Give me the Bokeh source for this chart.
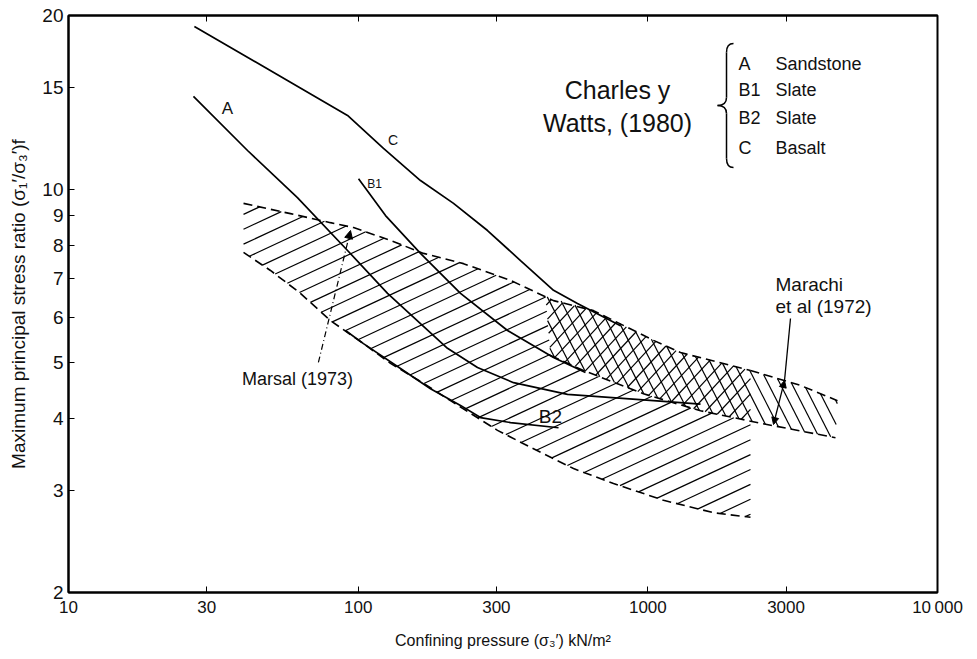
import numpy as np
from bokeh.plotting import figure
from bokeh.models import (FixedTicker, PrintfTickFormatter, LogAxis, Label, Arrow,
                          NormalHead, ColumnDataSource)
from bokeh.embed import file_html
from bokeh.resources import INLINE

# ---------------- data ----------------
x_ticks = [10, 30, 100, 300, 1000, 3000, 10000]
y_ticks = [2, 3, 4, 5, 6, 7, 8, 9, 10, 15, 20]

# Charles y Watts (1980) curves
c_x = [27.2, 57.0, 91.9, 122.3, 164.1, 213.4, 279.6, 363.5, 472.5, 571.6, 804.7]
c_y = [19.14, 15.43, 13.42, 11.77, 10.35, 9.45, 8.48, 7.52, 6.68, 6.34, 5.80]
a_x = [27.0, 41.5, 61.7, 91.9, 126.3, 164.1, 203.4, 258.2, 343.9, 528.0, 1045.9, 1520.3]
a_y = [14.48, 11.67, 9.67, 7.83, 6.60, 5.85, 5.30, 4.91, 4.62, 4.41, 4.30, 4.24]
b1_x = [100.3, 124.3, 164.1, 225.6, 327.8, 472.5, 609.1]
b1_y = [10.43, 9.00, 7.74, 6.60, 5.69, 5.11, 4.81]
b2_x = [90.4, 104.3, 140.0, 177.7, 225.6, 264.4, 335.7, 491.7]
b2_y = [5.69, 5.40, 4.89, 4.51, 4.22, 4.02, 3.94, 3.86]

# Marsal (1973) band
marsal_up_x = [40.2, 58.4, 80.2, 96.4, 129.3, 168.1, 231.0, 335.7, 472.5, 649.3, 850.8, 1045.9, 1296.6, 2261.5]
marsal_up_y = [9.45, 9.07, 8.75, 8.58, 8.15, 7.74, 7.43, 6.95, 6.41, 6.16, 5.76, 5.47, 5.21, 4.85]
marsal_lo_x = [40.2, 49.8, 63.2, 80.2, 104.3, 129.3, 168.1, 208.3, 302.7, 393.5, 553.7, 761.3, 1132.5, 1685.6, 2261.5]
marsal_lo_y = [7.77, 7.23, 6.60, 5.92, 5.40, 4.99, 4.61, 4.30, 3.82, 3.57, 3.28, 3.09, 2.89, 2.75, 2.70]

# Marachi et al (1972) band
marachi_up_x = [443.5, 649.3, 850.8, 1045.9, 1296.6, 2261.5, 3365, 4516]
marachi_up_y = [6.52, 6.16, 5.76, 5.47, 5.21, 4.85, 4.57, 4.30]
marachi_lo_x = [461.3, 599.5, 966.1, 1520.3, 2449, 4444]
marachi_lo_y = [5.15, 4.85, 4.42, 4.13, 3.93, 3.71]

legend_codes = ["A", "B1", "B2", "C"]
legend_names = ["Sandstone", "Slate", "Slate", "Basalt"]

FONT = "Liberation Sans"

p = figure(x_axis_type="log", y_axis_type="log", x_range=(10, 10000), y_range=(2, 20),
           frame_width=869, frame_height=577,
           min_border_left=68, min_border_right=32, min_border_top=15, min_border_bottom=58,
           output_backend="svg", toolbar_location=None,
           background_fill_color="white", border_fill_color="white")
p.grid.visible = False
p.outline_line_color = "black"
p.outline_line_width = 2

xa = p.xaxis[0]
xa.ticker = FixedTicker(ticks=x_ticks)
xa.formatter = PrintfTickFormatter(format="%d")
xa.major_label_overrides = {10000: "10\u2009000"}
xa.major_tick_in = 6
xa.major_tick_out = 0
xa.minor_tick_line_color = None
xa.axis_line_width = 2
xa.major_label_standoff = 5
xa.major_label_text_font = FONT
xa.major_label_text_font_size = "17px"
xa.major_label_text_color = "#111111"
xa.axis_label = "Confining pressure (\u03c3\u2083\u2032) kN/m\u00b2"
xa.axis_label_text_font = FONT
xa.axis_label_text_font_size = "16px"
xa.axis_label_text_font_style = "normal"
xa.axis_label_standoff = 12
xa.axis_label_text_color = "#111111"

ya = p.yaxis[0]
ya.ticker = FixedTicker(ticks=y_ticks)
ya.formatter = PrintfTickFormatter(format="%d")
ya.major_tick_in = 6
ya.major_tick_out = 0
ya.minor_tick_line_color = None
ya.axis_line_width = 2
ya.major_label_standoff = 5
ya.major_label_text_font = FONT
ya.major_label_text_font_size = "19px"
ya.major_label_text_color = "#111111"
ya.axis_label = "Maximum principal stress ratio (\u03c3\u2081\u2032/\u03c3\u2083\u2032)f"
ya.axis_label_text_font = FONT
ya.axis_label_text_font_size = "19px"
ya.axis_label_text_font_style = "normal"
ya.axis_label_standoff = 10
ya.axis_label_text_color = "#111111"

top = LogAxis(ticker=FixedTicker(ticks=x_ticks), major_tick_in=6, major_tick_out=0,
              major_label_text_font_size="0px", major_label_standoff=0,
              major_label_overrides={t: "" for t in x_ticks}, axis_line_width=2)
p.add_layout(top, "above")

# ---------------- hatching computed from the band outlines ----------------
KX, KY = 289.67, 577.0  # pixels per decade, to get screen-like hatch angles


def uv(xs, ys):
    return [(np.log10(x) * KX, np.log10(y) * KY) for x, y in zip(xs, ys)]


def band_poly(ux, uy, lx, ly):
    return uv(ux, uy) + uv(lx[::-1], ly[::-1])


def crossings(poly, p0, d):
    ts = []
    n = len(poly)
    for i in range(n):
        a = poly[i]
        b = poly[(i + 1) % n]
        e = (b[0] - a[0], b[1] - a[1])
        den = d[0] * e[1] - d[1] * e[0]
        if abs(den) < 1e-12:
            continue
        w = (a[0] - p0[0], a[1] - p0[1])
        t = (w[0] * e[1] - w[1] * e[0]) / den
        s = (w[0] * d[1] - w[1] * d[0]) / den
        if 0 <= s < 1:
            ts.append(t)
    ts.sort()
    return [(ts[i], ts[i + 1]) for i in range(0, len(ts) - 1, 2)]


def intersect(A, B):
    out = []
    for a0, a1 in A:
        for b0, b1 in B:
            lo, hi = max(a0, b0), min(a1, b1)
            if hi > lo:
                out.append((lo, hi))
    return out


def subtract(A, B):
    out = []
    for a0, a1 in A:
        segs = [(a0, a1)]
        for b0, b1 in B:
            new = []
            for s0, s1 in segs:
                if b1 <= s0 or b0 >= s1:
                    new.append((s0, s1))
                    continue
                if b0 > s0:
                    new.append((s0, b0))
                if b1 < s1:
                    new.append((b1, s1))
            segs = new
        out += segs
    return out


def hatch(fill_polys, minus_polys, angle_deg, spacing):
    th = np.radians(angle_deg)
    d = (np.cos(th), np.sin(th))
    nrm = (-np.sin(th), np.cos(th))
    pts = [pt for poly in fill_polys for pt in poly]
    cs = [pt[0] * nrm[0] + pt[1] * nrm[1] for pt in pts]
    c = np.floor(min(cs) / spacing) * spacing + spacing / 2
    out = dict(x0=[], y0=[], x1=[], y1=[])
    while c <= max(cs):
        p0 = (c * nrm[0], c * nrm[1])
        iv = crossings(fill_polys[0], p0, d)
        for poly in fill_polys[1:]:
            iv = intersect(iv, crossings(poly, p0, d))
        for poly in minus_polys:
            iv = subtract(iv, crossings(poly, p0, d))
        for t0, t1 in iv:
            if t1 - t0 < 2:
                continue
            out["x0"].append(10 ** ((p0[0] + t0 * d[0]) / KX))
            out["y0"].append(10 ** ((p0[1] + t0 * d[1]) / KY))
            out["x1"].append(10 ** ((p0[0] + t1 * d[0]) / KX))
            out["y1"].append(10 ** ((p0[1] + t1 * d[1]) / KY))
        c += spacing
    return out


marsal_poly = band_poly(marsal_up_x, marsal_up_y, marsal_lo_x, marsal_lo_y)
marachi_poly = band_poly(marachi_up_x, marachi_up_y, marachi_lo_x, marachi_lo_y)

for fills, minus, ang, sp in [([marsal_poly], [marachi_poly], 25, 13.5),
                              ([marsal_poly, marachi_poly], [], 47, 10.5),
                              ([marachi_poly], [], -63, 10.5)]:
    h = hatch(fills, minus, ang, sp)
    p.segment("x0", "y0", "x1", "y1", source=ColumnDataSource(h),
              line_color="black", line_width=1.2)

# band outlines (dashed)
DASH = "9 5"
p.line(marsal_up_x, marsal_up_y, line_color="black", line_width=1.6, line_dash=DASH)
p.line(marsal_lo_x, marsal_lo_y, line_color="black", line_width=1.6, line_dash=DASH)
mu = [i for i, x in enumerate(marachi_up_x) if x >= marsal_up_x[-1]]
p.line([marachi_up_x[i] for i in mu], [marachi_up_y[i] for i in mu],
       line_color="black", line_width=1.6, line_dash=DASH)
p.line(marachi_lo_x, marachi_lo_y, line_color="black", line_width=1.6, line_dash=DASH)

# Charles y Watts curves
for xs, ys in [(c_x, c_y), (a_x, a_y), (b1_x, b1_y), (b2_x, b2_y)]:
    p.line(xs, ys, line_color="black", line_width=1.7)

# ---------------- annotations ----------------
def lab(x, y, text, size, align="center", baseline="middle"):
    p.add_layout(Label(x=x, y=y, text=text, text_font=FONT, text_font_size=size,
                       text_align=align, text_baseline=baseline, text_color="#111111"))


lab(35.4, 13.8, "A", "17px")
lab(461, 4.04, "B2", "19px")
lab(132, 12.15, "C", "14px")
lab(114, 10.19, "B1", "12px")
lab(61.7, 4.68, "Marsal (1973)", "18px")
lab(2759, 6.84, "Marachi", "19px", align="left")
lab(2759, 6.26, "et al (1972)", "19px", align="left")
lab(786, 14.83, "Charles y", "25px")
lab(786, 13.0, "Watts, (1980)", "25px")

legend_y = [16.51, 14.83, 13.26, 11.81]
for yv, code, name in zip(legend_y, legend_codes, legend_names):
    lab(2056, yv, code, "18px", align="left")
    lab(2759, yv, name, "18px", align="left")

# brace of the legend
p.quadratic(x0=[1976, 1869, 1740, 1869], y0=[17.88, 14.42, 13.97, 11.30],
            x1=[1869, 1740, 1869, 1976], y1=[17.26, 13.97, 13.53, 10.90],
            cx=[1869, 1869, 1869, 1869], cy=[17.88, 13.97, 13.97, 10.90],
            line_color="black", line_width=1.5)
p.segment(x0=[1869, 1869], y0=[17.26, 13.53], x1=[1869, 1869], y1=[14.42, 11.30],
          line_color="black", line_width=1.5)

# Marsal leader (dash-dot arrow)
p.add_layout(Arrow(end=NormalHead(size=8, fill_color="black", line_color="black", line_width=1),
                   x_start=72.9, y_start=5.01, x_end=94.1, y_end=8.48,
                   line_color="black", line_width=1.2, line_dash="6 3 1 3"))
# Marachi leader
p.segment(x0=[3108], y0=[5.97], x1=[2964], y1=[4.66], line_color="black", line_width=1.3)
p.add_layout(Arrow(start=NormalHead(size=7, fill_color="black", line_color="black", line_width=1),
                   end=NormalHead(size=7, fill_color="black", line_color="black", line_width=1),
                   x_start=2964, y_start=4.66, x_end=2716, y_end=3.91,
                   line_color="black", line_width=1.3))

open("out.html", "w").write(file_html(p, INLINE))
